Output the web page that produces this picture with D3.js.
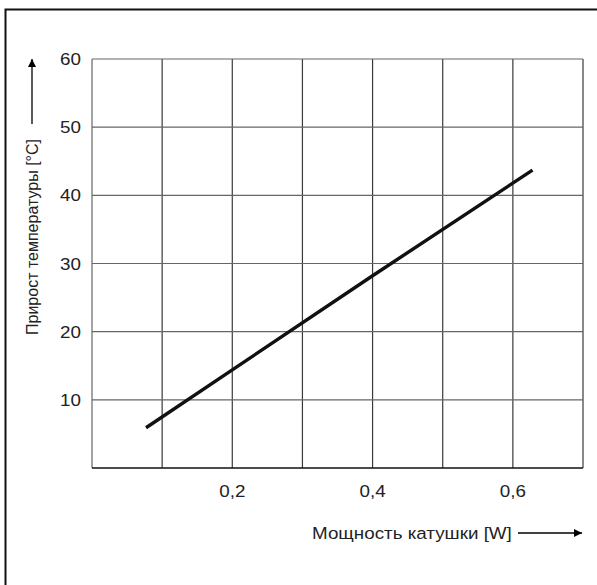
<!DOCTYPE html>
<html>
<head>
<meta charset="utf-8">
<script src="https://cdn.jsdelivr.net/npm/d3@7"></script>
<style>
  body { margin: 0; background: #fff; }
  text { font-family: "Liberation Sans", Arial, sans-serif; fill: #222; }
</style>
</head>
<body>
<svg id="svg"></svg>
<script>
"use strict";

// data
var powerW   = [0.077, 0.2, 0.4, 0.628];
var riseC    = [5.9, 14.4, 28.2, 43.7];
var xTicks   = [0.2, 0.4, 0.6];
var yTicks   = [10, 20, 30, 40, 50, 60];
var xGrid    = [0.1, 0.2, 0.3, 0.4, 0.5, 0.6, 0.7];
var yGrid    = [10, 20, 30, 40, 50, 60];
var xTitle   = "Мощность катушки [W]";
var yTitle   = "Прирост температуры [°C]";

var W = 597, H = 585,
    plotL = 92, plotR = 583, plotT = 59, plotB = 468,
    stretch = 1.14;   // text in the original looks a bit wide

var svg = d3.select("#svg").attr("width", W).attr("height", H);

var x = d3.scaleLinear().domain([0, 0.7]).range([plotL, plotR]);
var y = d3.scaleLinear().domain([0, 60]).range([plotB, plotT]);

// outer frame (open on the right and bottom)
svg.append("path")
  .attr("d", "M5.5," + H + "V9.5H" + W)
  .attr("fill", "none").attr("stroke", "#111").attr("stroke-width", 2);

var grid = svg.append("g");

grid.selectAll("line.v").data(xGrid).enter().append("line")
  .attr("x1", function(d){ return x(d); }).attr("x2", function(d){ return x(d); })
  .attr("y1", plotT).attr("y2", plotB)
  .attr("stroke", "#3a3a3a").attr("stroke-width", 1.2);

grid.selectAll("line.h").data(yGrid).enter().append("line")
  .attr("x1", plotL).attr("x2", plotR)
  .attr("y1", function(d){ return y(d); }).attr("y2", function(d){ return y(d); })
  .attr("stroke", "#666").attr("stroke-width", 1.2);

// left edge and bottom axis
grid.append("line").attr("x1", plotL).attr("x2", plotL).attr("y1", plotT).attr("y2", plotB)
  .attr("stroke", "#666").attr("stroke-width", 1.2);
grid.append("line").attr("x1", plotL).attr("x2", plotR).attr("y1", plotB).attr("y2", plotB)
  .attr("stroke", "#111").attr("stroke-width", 1.4);

// tick labels
svg.selectAll("text.xt").data(xTicks).enter().append("text")
  .attr("transform", function(d){ return "translate(" + x(d) + ",497) scale(" + stretch + ",1)"; })
  .attr("text-anchor", "middle").attr("font-size", 16.5)
  .text(function(d){ return String(d).replace(".", ","); });

svg.selectAll("text.yt").data(yTicks).enter().append("text")
  .attr("transform", function(d){ return "translate(81," + (y(d) + 6) + ") scale(" + stretch + ",1)"; })
  .attr("text-anchor", "end").attr("font-size", 16.5)
  .text(function(d){ return d; });

// the curve
var line = d3.line()
  .x(function(d){ return x(d[0]); })
  .y(function(d){ return y(d[1]); });

svg.append("path")
  .datum(d3.zip(powerW, riseC))
  .attr("d", line)
  .attr("fill", "none").attr("stroke", "#111").attr("stroke-width", 3.4);

// arrows
var defs = svg.append("defs");
defs.append("marker").attr("id", "arr")
  .attr("viewBox", "0 0 10 10").attr("refX", 10).attr("refY", 5)
  .attr("markerWidth", 12).attr("markerHeight", 8).attr("markerUnits", "userSpaceOnUse")
  .attr("orient", "auto")
  .append("path").attr("d", "M0,0L10,5L0,10z").attr("fill", "#000");

// x title
svg.append("text")
  .attr("transform", "translate(312,539) scale(" + stretch + ",1)")
  .attr("font-size", 16.5).text(xTitle);
svg.append("line").attr("x1", 518).attr("x2", 582).attr("y1", 533).attr("y2", 533)
  .attr("stroke", "#000").attr("stroke-width", 1.3).attr("marker-end", "url(#arr)");

// y title
svg.append("text")
  .attr("transform", "translate(38,335) rotate(-90)")
  .attr("font-size", 16).text(yTitle);
svg.append("line").attr("x1", 32).attr("x2", 32).attr("y1", 124).attr("y2", 59)
  .attr("stroke", "#000").attr("stroke-width", 1.3).attr("marker-end", "url(#arr)");
</script>
</body>
</html>
